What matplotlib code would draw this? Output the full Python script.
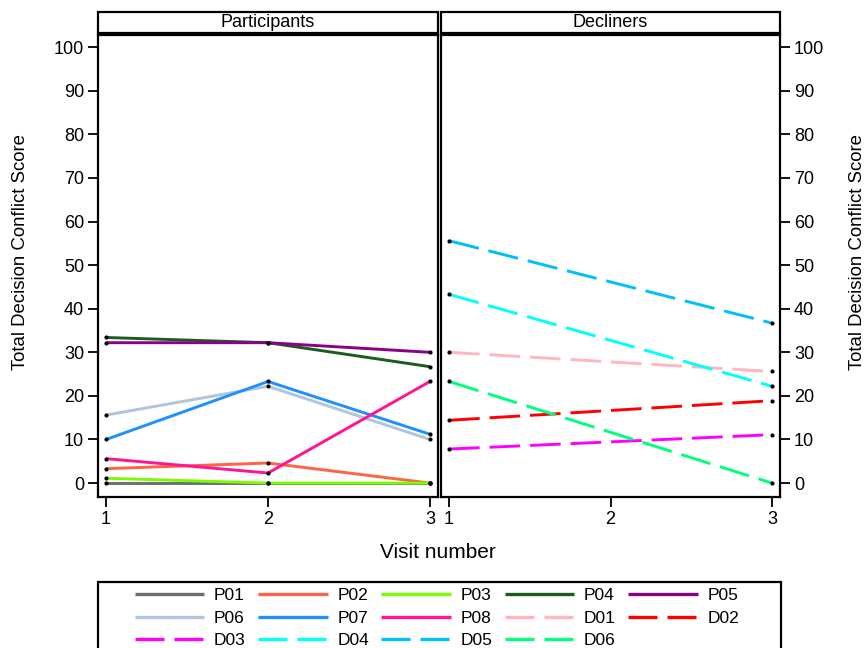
import matplotlib.pyplot as plt
from matplotlib.patches import Rectangle
from matplotlib.lines import Line2D

plt.rcParams['font.family'] = ['Liberation Sans', 'DejaVu Sans']

visits = [1, 2, 3]
yticks = [0, 10, 20, 30, 40, 50, 60, 70, 80, 90, 100]

part_names = ['P01', 'P02', 'P03', 'P04', 'P05', 'P06', 'P07', 'P08']
part_vals = [
    [0, 0, 0],
    [3.3, 4.6, 0],
    [1.1, 0, 0],
    [33.4, 32.2, 26.7],
    [32.2, 32.2, 30.0],
    [15.6, 22.2, 10.0],
    [10.0, 23.3, 11.2],
    [5.6, 2.3, 23.3],
]
part_colors = ['#6e6e6e', '#ff6347', '#7cfc00', '#1d5a1d', '#8b008b',
               '#b0c4de', '#1e90ff', '#ff1493']

decl_names = ['D01', 'D02', 'D03', 'D04', 'D05', 'D06']
decl_first = [30.0, 14.4, 7.8, 43.3, 55.6, 23.3]
decl_last = [25.6, 18.9, 11.1, 22.2, 36.7, 0.0]
decl_colors = ['#ffb6c1', '#ff0000', '#ff00ff', '#00ffff', '#00bfff', '#00ff7f']

W, H = 868, 648
fig = plt.figure(figsize=(W / 100, H / 100), dpi=100)

def fx(px):
    return px / W

def fy(py):
    return 1 - py / H

top, bot = 35, 497
ax1 = fig.add_axes([fx(98), fy(bot), fx(438 - 98), fy(top) - fy(bot)])
ax2 = fig.add_axes([fx(441), fy(bot), fx(780 - 441), fy(top) - fy(bot)])

dash = (0, (10.5, 3.4))
for name, v, c in zip(part_names, part_vals, part_colors):
    ax1.plot(visits, v, color=c, lw=2.1, solid_capstyle='butt')
for v in part_vals:
    ax1.scatter(visits, v, s=9, color='black', zorder=5, lw=0)

for name, a, b, c in zip(decl_names, decl_first, decl_last, decl_colors):
    ax2.plot([1, 3], [a, b], color=c, lw=2.1, linestyle=dash)
    ax2.scatter([1, 3], [a, b], s=9, color='black', zorder=5, lw=0)

for ax, title in [(ax1, 'Participants'), (ax2, 'Decliners')]:
    ax.set_xlim(0.95, 3.05)
    ax.set_ylim(-3.2, 102.8)
    ax.set_xticks(visits)
    ax.set_yticks(yticks)
    for s in ax.spines.values():
        s.set_linewidth(1.6)
    ax.tick_params(direction='out', length=7, width=1.3, labelsize=13, pad=3)
    strip_h = (top - 10) / (bot - top)
    ax.add_patch(Rectangle((0, 1.005), 1, strip_h - 0.01, transform=ax.transAxes,
                           fill=False, lw=1.6, ec='black', clip_on=False))
    ax.text(0.5, 1 + strip_h / 2, title, transform=ax.transAxes,
            ha='center', va='center', fontsize=13)

ax2.yaxis.tick_right()
fig.text(fx(21), fy(252), 'Total Decision Conflict Score', rotation=90,
         ha='center', va='center', fontsize=13.4)
fig.text(fx(858), fy(252), 'Total Decision Conflict Score', rotation=90,
         ha='center', va='center', fontsize=13.4)
fig.text(fx(438), fy(553), 'Visit number', ha='center', va='center', fontsize=15)

handles = {}
for name, c in zip(part_names, part_colors):
    handles[name] = Line2D([], [], color=c, lw=2.4, solid_capstyle='butt')
for name, c in zip(decl_names, decl_colors):
    handles[name] = Line2D([], [], color=c, lw=2.4, linestyle=(0, (8.7, 3.0)))

# legend is filled column by column, so reorder to read row by row
order = ['P01', 'P06', 'D03', 'P02', 'P07', 'D04', 'P03', 'P08', 'D05',
         'P04', 'D01', 'D06', 'P05', 'D02']
leg = fig.legend([handles[k] for k in order], order, ncol=5, loc='upper left',
                 bbox_to_anchor=(fx(135), fy(588)), fontsize=12.5,
                 frameon=False, handlelength=4.0, columnspacing=0.72,
                 handletextpad=0.55, labelspacing=0.43, borderpad=0.0,
                 borderaxespad=0.0)
fig.patches.append(Rectangle((fx(98), fy(665)), fx(781 - 98), fy(582) - fy(665),
                             transform=fig.transFigure, fill=False, lw=1.6,
                             ec='black'))

plt.savefig('out.png', dpi=100)
